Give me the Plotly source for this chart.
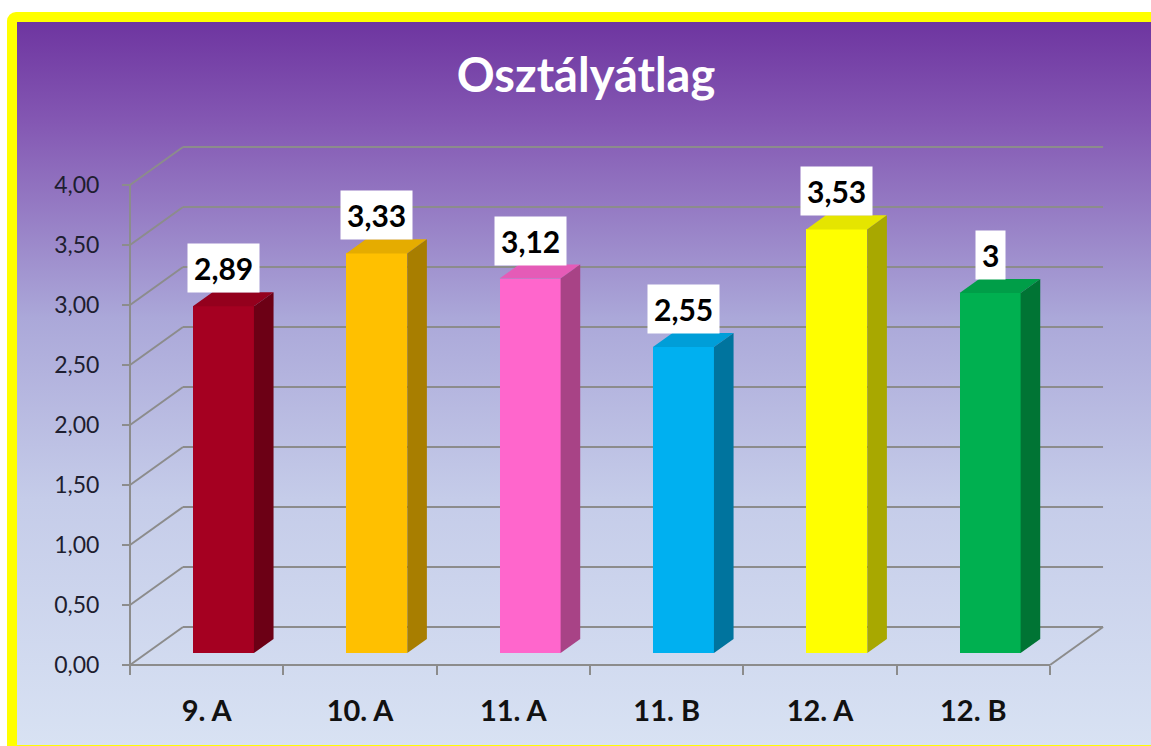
import base64
import plotly.graph_objects as go

# ---------------- data ----------------
categories = ["9. A", "10. A", "11. A", "11. B", "12. A", "12. B"]
values = [2.89, 3.33, 3.12, 2.55, 3.53, 3]
y_ticks = [0, 0.5, 1, 1.5, 2, 2.5, 3, 3.5, 4]
title_text = "Osztályátlag"

# ---------------- styles ----------------
front_colors = ["#A50021", "#FFC000", "#FF66CC", "#00B0F0", "#FFFF00", "#00B050"]
grid_color = "#8C8C8C"
FONT = "Lato, 'Open Sans', sans-serif"

W, H = 1151, 746
UX = 153.34                   # px per category unit
UY = 120.0                    # px per value unit
AX_LEFT_PX = 130              # pixel position of x=-0.5
AX_ZERO_PX = 665              # pixel position of y=0
PAD = 4
PLOT_RIGHT_PX = 1110
PLOT_TOP_PX = 137

L = AX_LEFT_PX - PAD
plot_w = PLOT_RIGHT_PX - L
R = W - PLOT_RIGHT_PX
T = PLOT_TOP_PX
B = H - (AX_ZERO_PX + PAD)
plot_h = H - T - B

x0 = -0.5 - PAD / UX
x1 = x0 + plot_w / UX
y0 = -PAD / UY
y1 = y0 + plot_h / UY

n = len(categories)
DX, DY = 53 / UX, 38 / UY          # depth vector of the 3D box
F0, FD = 0.316, 0.37               # bar front depth fraction, bar depth fraction
BW = 0.398                         # bar width
sx, base = F0 * DX, F0 * DY
ddx, ddy = FD * DX, FD * DY


def shade(hx, k):
    hx = hx.lstrip("#")
    r, g, b = (int(hx[i:i + 2], 16) for i in (0, 2, 4))
    return f"rgb({int(r * k)},{int(g * k)},{int(b * k)})"


fig = go.Figure()

# front faces of the bars
xs = [i + sx for i in range(n)]
fig.add_trace(go.Bar(
    x=xs, y=values, base=[base] * n, width=BW,
    marker=dict(color=front_colors, line=dict(width=0)),
    hoverinfo="skip", showlegend=False,
))

# top and side faces
for i, v in enumerate(values):
    xl, xr = xs[i] - BW / 2, xs[i] + BW / 2
    top = base + v
    fig.add_trace(go.Scatter(
        x=[xl, xr, xr + ddx, xl + ddx, xl],
        y=[top, top, top + ddy, top + ddy, top],
        fill="toself", mode="lines", line=dict(width=0),
        fillcolor=shade(front_colors[i], 0.9),
        hoverinfo="skip", showlegend=False,
    ))
    fig.add_trace(go.Scatter(
        x=[xr, xr + ddx, xr + ddx, xr, xr],
        y=[base, base + ddy, top + ddy, top, base],
        fill="toself", mode="lines", line=dict(width=0),
        fillcolor=shade(front_colors[i], 0.66),
        hoverinfo="skip", showlegend=False,
    ))

# walls / gridlines (drawn beneath the bars)
shapes = []
ln = dict(color=grid_color, width=2)
xa, xb = -0.5, n - 0.5
for t in y_ticks:
    shapes.append(dict(type="line", xref="x", yref="y", layer="below",
                       x0=xa + DX, x1=xb + DX, y0=t + DY, y1=t + DY, line=ln))
    shapes.append(dict(type="line", xref="x", yref="y", layer="below",
                       x0=xa, x1=xa + DX, y0=t, y1=t + DY, line=ln))
shapes.append(dict(type="line", xref="x", yref="y", layer="below",
                   x0=xa, x1=xb, y0=0, y1=0, line=ln))
shapes.append(dict(type="line", xref="x", yref="y", layer="below",
                   x0=xb, x1=xb + DX, y0=0, y1=DY, line=ln))
shapes.append(dict(type="line", xref="x", yref="y", layer="below",
                   x0=xa, x1=xa, y0=0, y1=max(y_ticks), line=ln))

# value labels
annotations = []
for i, v in enumerate(values):
    annotations.append(dict(
        x=xs[i], y=base + v, xref="x", yref="y",
        text=f"{v:g}".replace(".", ","), showarrow=False,
        yanchor="bottom", yshift=13,
        font=dict(family=FONT, size=30, color="black", weight="bold"),
        bgcolor="white", borderpad=6,
    ))

# background: yellow frame (left/top/bottom) + purple->blue gradient
svg = f"""<svg xmlns='http://www.w3.org/2000/svg' width='{W}' height='{H}' viewBox='0 0 {W} {H}'>
<defs><linearGradient id='g' x1='0' y1='0' x2='0' y2='1'>
<stop offset='0' stop-color='#6E35A0'/>
<stop offset='0.14' stop-color='#8458B3'/>
<stop offset='0.41' stop-color='#ABA8D9'/>
<stop offset='0.66' stop-color='#C5CCE9'/>
<stop offset='1' stop-color='#D8E2F3'/>
</linearGradient></defs>
<rect x='0' y='0' width='{W}' height='{H}' fill='white'/>
<rect x='7' y='12' width='{W * 2}' height='{H * 2}' rx='9' fill='#FFFF00'/>
<rect x='17' y='22' width='{W * 2}' height='{H - 23}' fill='url(#g)'/>
</svg>"""
src = "data:image/svg+xml;base64," + base64.b64encode(svg.encode()).decode()

fig.update_layout(
    width=W, height=H, autosize=False,
    margin=dict(l=L, r=R, t=T, b=B, pad=0),
    paper_bgcolor="white", plot_bgcolor="rgba(0,0,0,0)",
    separators=", ",
    showlegend=False,
    bargap=0,
    hovermode=False,
    shapes=shapes,
    annotations=annotations,
    images=[dict(source=src, xref="paper", yref="paper",
                 x=-L / plot_w, y=1 + T / plot_h,
                 sizex=W / plot_w, sizey=H / plot_h,
                 xanchor="left", yanchor="top", sizing="stretch", layer="below")],
    title=dict(text=title_text, xref="container", yref="container",
               x=586 / W, y=1 - 76 / H, xanchor="center", yanchor="middle",
               font=dict(family=FONT, size=47, color="white", weight="bold")),
    xaxis=dict(range=[x0, x1], showgrid=False, zeroline=False, showline=False,
               tickvals=list(range(n)), ticktext=categories, ticks="",
               anchor="free", position=PAD / plot_h,
               ticklabelstandoff=26,
               tickfont=dict(family=FONT, size=29, color="#111111", weight="bold"),
               minor=dict(tickvals=[i - 0.5 for i in range(n + 1)], ticks="outside",
                          ticklen=9, tickwidth=2, tickcolor=grid_color, showgrid=False)),
    yaxis=dict(range=[y0, y1], showgrid=False, zeroline=False, showline=False,
               tickvals=y_ticks, tickformat=".2f", ticks="outside", ticklen=8,
               tickwidth=2, tickcolor=grid_color,
               anchor="free", position=PAD / plot_w,
               ticklabelstandoff=18,
               tickfont=dict(family=FONT, size=23, color="#1E1E30")),
)

fig.write_html(
    "out.html",
    config={"displayModeBar": False, "staticPlot": True},
    post_script="document.body.style.margin='0';document.body.style.overflow='hidden';",
)
